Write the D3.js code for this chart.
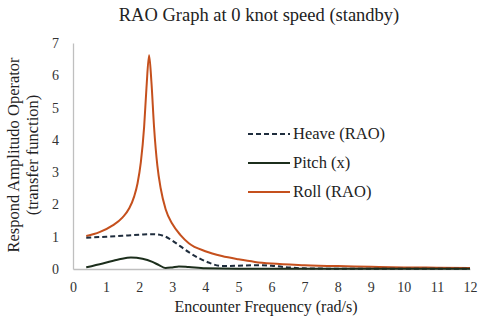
<!DOCTYPE html>
<html>
<head>
<meta charset="utf-8">
<script src="https://cdn.jsdelivr.net/npm/d3@7"></script>
</head>
<body style="margin:0">
<svg id="chart" width="480" height="319" font-family="Liberation Serif, Times New Roman, Tinos"></svg>
<script>
// RAO curves
const rollX  = [0.4, 0.8, 1.2, 1.5, 1.7, 1.85, 1.95, 2.05, 2.15, 2.22, 2.3, 2.37, 2.45, 2.55, 2.65, 2.8, 3.0, 3.25, 3.5, 4.0, 4.5, 5.0, 5.5, 6.0, 7.0, 8.0, 9.0, 10, 11, 12];
const rollY  = [1.02, 1.14, 1.35, 1.6, 1.88, 2.25, 2.65, 3.3, 4.4, 5.6, 6.62, 5.8, 4.4, 3.2, 2.5, 1.85, 1.4, 1.05, 0.8, 0.55, 0.4, 0.3, 0.22, 0.17, 0.12, 0.09, 0.07, 0.05, 0.04, 0.03];

const heaveX = [0.4, 1.0, 1.5, 2.0, 2.4, 2.7, 3.0, 3.25, 3.5, 3.8, 4.1, 4.5, 5.0, 5.5, 6.0, 6.5, 7.0, 8.0, 10, 12];
const heaveY = [0.97, 1.0, 1.03, 1.06, 1.08, 1.04, 0.88, 0.7, 0.52, 0.34, 0.2, 0.09, 0.1, 0.12, 0.1, 0.05, 0.02, 0.01, 0.01, 0.01];

const pitchX = [0.4, 0.9, 1.4, 1.75, 2.1, 2.4, 2.6, 2.8, 3.0, 3.2, 3.5, 4.0, 5.0, 6.0, 8.0, 10, 12];
const pitchY = [0.05, 0.17, 0.3, 0.36, 0.32, 0.22, 0.12, 0.03, 0.05, 0.08, 0.06, 0.02, 0.01, 0.01, 0.01, 0.01, 0.01];

const xTicks = d3.range(0, 13);
const yTicks = d3.range(0, 8);

const seriesNames = ["Heave (RAO)", "Pitch (x)", "Roll (RAO)"];

const svg = d3.select("#chart");

const x = d3.scaleLinear().domain([0, 12]).range([73, 470]);
const y = d3.scaleLinear().domain([0, 7]).range([269, 43]);

function label(sel, size) {
  return sel.attr("font-size", size).attr("fill", "#222");
}

// title
label(svg.append("text"), 18.5)
  .attr("x", 259).attr("y", 21)
  .attr("text-anchor", "middle")
  .text("RAO Graph at 0 knot speed (standby)");

// axes
const xAxis = svg.append("g")
  .attr("transform", `translate(0,${y(0)})`)
  .call(d3.axisBottom(x).tickValues(xTicks).tickFormat(d3.format("d")).tickSize(0).tickPadding(13));
const yAxis = svg.append("g")
  .attr("transform", `translate(${x(0)},0)`)
  .call(d3.axisLeft(y).tickValues(yTicks).tickFormat(d3.format("d")).tickSize(0).tickPadding(14));

[xAxis, yAxis].forEach(g => {
  g.attr("font-family", null).attr("font-size", 14);
  g.select(".domain").attr("stroke", "#bfbfbf").attr("stroke-width", 1.3);
  g.selectAll("text").attr("fill", "#333");
});

// axis titles
label(svg.append("text"), 16)
  .attr("x", 266).attr("y", 312)
  .attr("text-anchor", "middle")
  .text("Encounter Frequency (rad/s)");

label(svg.append("text"), 16.5)
  .attr("transform", "translate(19,155) rotate(-90)")
  .attr("text-anchor", "middle")
  .text("Respond Amplitudo Operator");
label(svg.append("text"), 16.5)
  .attr("transform", "translate(38,155) rotate(-90)")
  .attr("text-anchor", "middle")
  .text("(transfer function)");

// lines
const line = d3.line()
  .x(d => x(d[0]))
  .y(d => y(d[1]))
  .curve(d3.curveMonotoneX);

const series = [
  {name: seriesNames[2], xs: rollX,  ys: rollY,  color: "#c5501d", dash: null},
  {name: seriesNames[0], xs: heaveX, ys: heaveY, color: "#1f2d3d", dash: "5,3"},
  {name: seriesNames[1], xs: pitchX, ys: pitchY, color: "#1c2e1c", dash: null}
];

series.forEach(s => {
  svg.append("path")
    .datum(d3.zip(s.xs, s.ys))
    .attr("d", line)
    .attr("fill", "none")
    .attr("stroke", s.color)
    .attr("stroke-width", 2)
    .attr("stroke-dasharray", s.dash);
});

// legend
const legendOrder = [series[1], series[2], series[0]];
const legend = svg.append("g").attr("transform", "translate(248,134)");
legendOrder.forEach((s, i) => {
  const g = legend.append("g").attr("transform", `translate(0,${i * 29})`);
  g.append("line")
    .attr("x1", 0).attr("x2", 42)
    .attr("stroke", s.color)
    .attr("stroke-width", 2)
    .attr("stroke-dasharray", s.dash);
  label(g.append("text"), 16.5)
    .attr("x", 45).attr("y", 5)
    .text(s.name);
});
</script>
</body>
</html>
